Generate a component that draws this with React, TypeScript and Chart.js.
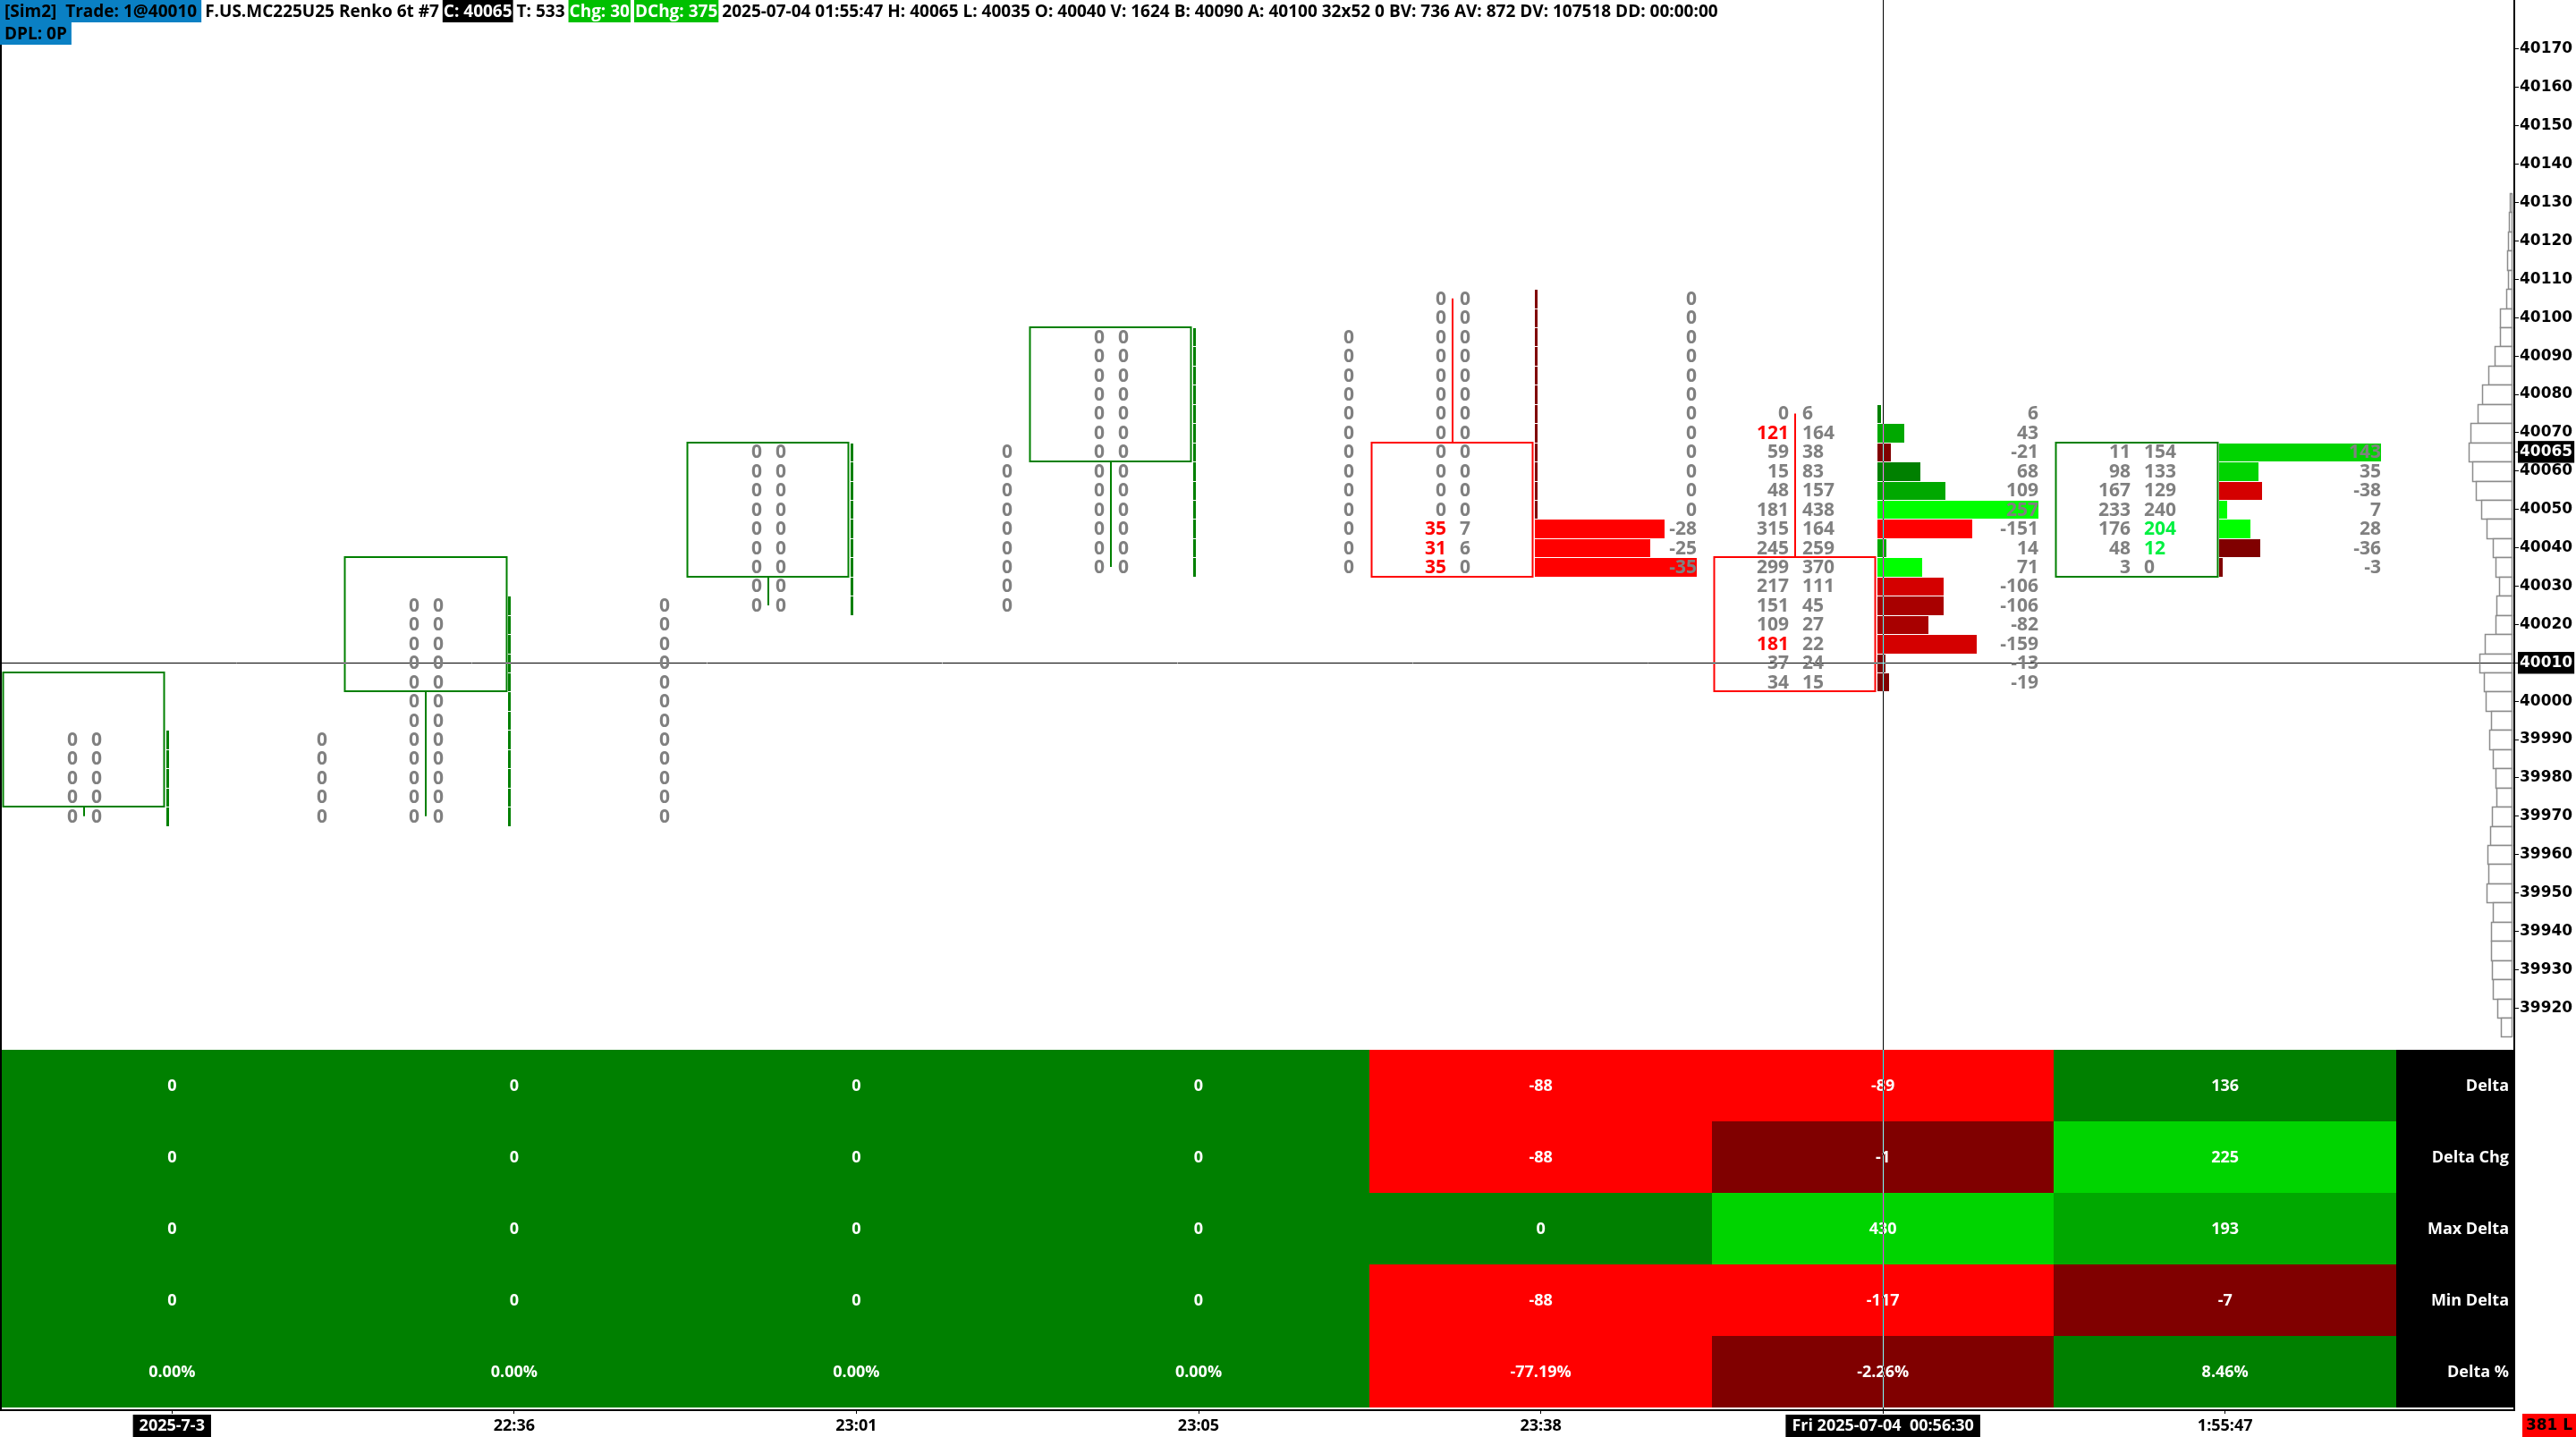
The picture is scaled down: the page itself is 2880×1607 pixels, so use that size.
import React, { useEffect, useRef } from 'react';
import { Chart, registerables } from 'chart.js';

Chart.register(...registerables);

// ---------------- data ----------------
const barLabels = ['2025-7-3', '22:36', '23:01', '23:05', '23:38', '0:56', '1:55:47'];
const crosshairTimeLabel = 'Fri 2025-07-04  00:56:30';
const crosshairBarIndex = 5;
const crosshairPrice = 40010;
const lastPrice = 40065;
const tickSize = 5;
const cornerBadge = '381 L';

const priceTicks = [
  40170, 40160, 40150, 40140, 40130, 40120, 40110, 40100, 40090, 40080, 40070, 40060, 40050,
  40040, 40030, 40020, 40010, 40000, 39990, 39980, 39970, 39960, 39950, 39940, 39930, 39920,
];

const bodyOpen = [39975, 40005, 40035, 40065, 40065, 40035, 40035];
const bodyClose = [40005, 40035, 40065, 40095, 40035, 40005, 40065];
const highPrice = [39990, 40025, 40065, 40095, 40105, 40075, 40065];

const bidVolume = [
  [0, 0, 0, 0, 0],
  [0, 0, 0, 0, 0, 0, 0, 0, 0, 0, 0, 0],
  [0, 0, 0, 0, 0, 0, 0, 0, 0],
  [0, 0, 0, 0, 0, 0, 0, 0, 0, 0, 0, 0, 0],
  [0, 0, 0, 0, 0, 0, 0, 0, 0, 0, 0, 0, 35, 31, 35],
  [0, 121, 59, 15, 48, 181, 315, 245, 299, 217, 151, 109, 181, 37, 34],
  [11, 98, 167, 233, 176, 48, 3],
];
const askVolume = [
  [0, 0, 0, 0, 0],
  [0, 0, 0, 0, 0, 0, 0, 0, 0, 0, 0, 0],
  [0, 0, 0, 0, 0, 0, 0, 0, 0],
  [0, 0, 0, 0, 0, 0, 0, 0, 0, 0, 0, 0, 0],
  [0, 0, 0, 0, 0, 0, 0, 0, 0, 0, 0, 0, 7, 6, 0],
  [6, 164, 38, 83, 157, 438, 164, 259, 370, 111, 45, 27, 22, 24, 15],
  [154, 133, 129, 240, 204, 12, 0],
];
// intensity level (0..3) of each delta histogram bar
const deltaIntensity = [
  [0, 0, 0, 0, 0],
  [0, 0, 0, 0, 0, 0, 0, 0, 0, 0, 0, 0],
  [0, 0, 0, 0, 0, 0, 0, 0, 0],
  [0, 0, 0, 0, 0, 0, 0, 0, 0, 0, 0, 0, 0],
  [0, 0, 0, 0, 0, 0, 0, 0, 0, 0, 0, 0, 3, 3, 3],
  [0, 1, 0, 0, 1, 3, 3, 1, 3, 2, 1, 1, 2, 0, 0],
  [2, 2, 2, 3, 3, 0, 0],
];

const profileTopPrice = 40130;
const profileVolume = [
  80, 120, 160, 210, 170, 250, 520, 520, 760, 1040, 1320, 1520, 1840, 1920, 1760, 1600, 1360,
  1110, 840, 720, 560, 680, 720, 1200, 1440, 1240, 1160, 920, 1000, 840, 720, 680, 880, 960,
  1080, 1040, 1120, 840, 920, 920, 880, 840, 640, 480,
];

const tableLabels = ['Delta', 'Delta Chg', 'Max Delta', 'Min Delta', 'Delta %'];
const deltaRow = [0, 0, 0, 0, -88, -89, 136];
const deltaChgRow = [0, 0, 0, 0, -88, -1, 225];
const maxDeltaRow = [0, 0, 0, 0, 0, 430, 193];
const minDeltaRow = [0, 0, 0, 0, -88, -117, -7];
const deltaPctRow = [0, 0, 0, 0, -77.19, -2.26, 8.46];
const deltaRowIntensity = [0, 0, 0, 0, 3, 3, 0];
const deltaChgRowIntensity = [0, 0, 0, 0, 3, 0, 2];
const maxDeltaRowIntensity = [0, 0, 0, 0, 0, 2, 1];
const minDeltaRowIntensity = [0, 0, 0, 0, 3, 3, 0];
const deltaPctRowIntensity = [0, 0, 0, 0, 3, 0, 0];

const headerLine1: [string, string][] = [
  ['[Sim2]  Trade: 1@40010', 'account'],
  ['F.US.MC225U25 Renko 6t #7', ''],
  ['C: 40065', 'price'],
  ['T: 533', ''],
  ['Chg: 30', 'change'],
  ['DChg: 375', 'change'],
  ['2025-07-04 01:55:47 H: 40065 L: 40035 O: 40040 V: 1624 B: 40090 A: 40100 32x52 0 BV: 736 AV: 872 DV: 107518 DD: 00:00:00', ''],
];
const headerLine2: [string, string][] = [['DPL: 0P', 'account']];

// ---------------- styles ----------------
const GREEN = ['#008000', '#00a800', '#00d400', '#00ff00'];
const RED = ['#800000', '#a80000', '#d40000', '#ff0000'];
const UP_COLOR = '#008000';
const DOWN_COLOR = '#ff0000';
const TEXT_GREY = '#808080';
const NUM_FONT = 'bold 21px "Open Sans"';
const TABLE_FONT = 'bold 18px "Open Sans"';
const HEADER_FONT = 'bold 19px "Open Sans"';
const PROFILE_WIDTH = 48;
const HEADER_GAP = 4;
const HEADER_BG: Record<string, string> = { account: '#0a80c4', price: '#000000', change: '#00c000' };

const footprintPlugin = {
  id: 'footprint',
  beforeDraw(chart: any) {
    const { ctx, width, height } = chart;
    ctx.save();
    ctx.fillStyle = '#ffffff';
    ctx.fillRect(0, 0, width, height);
    ctx.restore();
  },
  afterDatasetsDraw(chart: any) {
    const { ctx, chartArea: ca, scales } = chart;
    const xs = scales.x;
    const ys = scales.y;
    const yt = scales.yTable;
    const X = (v: number) => xs.getPixelForValue(v);
    const Y = (p: number) => ys.getPixelForValue(p);
    ctx.save();

    // ---- volume profile at right edge
    const pMax = Math.max(...profileVolume);
    const pRight = Math.round(ca.right) - 2.5;
    ctx.lineWidth = 1.5;
    ctx.strokeStyle = '#8c8c8c';
    ctx.fillStyle = '#ffffff';
    profileVolume.forEach((v, k) => {
      const p = profileTopPrice - k * tickSize;
      const y0 = Math.round(Y(p + tickSize / 2)) + 0.5;
      const y1 = Math.round(Y(p - tickSize / 2)) + 0.5;
      const w = Math.round((v / pMax) * PROFILE_WIDTH);
      ctx.fillRect(pRight - w, y0, w, y1 - y0);
      ctx.strokeRect(pRight - w, y0, w, y1 - y0);
    });

    // ---- footprint bars
    for (let i = 0; i < bidVolume.length; i++) {
      const bids = bidVolume[i];
      const asks = askVolume[i];
      const n = bids.length;
      const up = bodyClose[i] > bodyOpen[i];
      const col = up ? UP_COLOR : DOWN_COLOR;
      const bodyHi = Math.max(bodyOpen[i], bodyClose[i]) + tickSize / 2;
      const bodyLo = Math.min(bodyOpen[i], bodyClose[i]) - tickSize / 2;
      const xL = Math.round(X(i - 0.495)) + 0.5;
      const xR = Math.round(X(i - 0.024)) + 0.5;
      const xMid = Math.round((xL + xR) / 2);
      const high = highPrice[i];
      const low = high - (n - 1) * tickSize;

      ctx.strokeStyle = col;
      ctx.lineWidth = 2;
      ctx.beginPath();
      if (high > bodyHi) {
        ctx.moveTo(xMid, Y(high));
        ctx.lineTo(xMid, Y(bodyHi));
      }
      if (low < bodyLo) {
        ctx.moveTo(xMid, Y(bodyLo));
        ctx.lineTo(xMid, Y(low));
      }
      ctx.stroke();
      ctx.strokeRect(xL, Math.round(Y(bodyHi)), xR - xL, Math.round(Y(bodyLo)) - Math.round(Y(bodyHi)));

      // delta histogram
      const deltas = asks.map((a, k) => a - bids[k]);
      const maxAbs = Math.max(1, ...deltas.map((d) => Math.abs(d)));
      const hx0 = Math.round(X(i - 0.017));
      const hx1 = Math.round(X(i + 0.455));
      for (let k = 0; k < n; k++) {
        const p = high - k * tickSize;
        const y0 = Math.round(Y(p + tickSize / 2)) + 1;
        const y1 = Math.round(Y(p - tickSize / 2));
        const d = deltas[k];
        const lvl = deltaIntensity[i][k];
        const w = Math.max(3, Math.round((Math.abs(d) / maxAbs) * (hx1 - hx0)));
        ctx.fillStyle = d > 0 ? GREEN[lvl] : d < 0 ? RED[lvl] : up ? GREEN[lvl] : RED[lvl];
        ctx.fillRect(hx0, y0, w, y1 - y0);
      }

      // numbers
      ctx.font = NUM_FONT;
      ctx.textBaseline = 'middle';
      for (let k = 0; k < n; k++) {
        const p = high - k * tickSize;
        const y = Y(p) + 1;
        const bidImb = k > 0 && bids[k] > 0 && bids[k] >= 3 * asks[k - 1];
        const askImb = k < n - 1 && asks[k] > 0 && asks[k] >= 3 * bids[k + 1];
        ctx.textAlign = 'right';
        ctx.fillStyle = bidImb ? '#ff0000' : TEXT_GREY;
        ctx.fillText(String(bids[k]), xMid - 7, y);
        ctx.textAlign = 'left';
        ctx.fillStyle = askImb ? '#00f040' : TEXT_GREY;
        ctx.fillText(String(asks[k]), xMid + 8, y);
        ctx.textAlign = 'right';
        ctx.fillStyle = TEXT_GREY;
        ctx.fillText(String(deltas[k]), hx1, y);
      }
    }

    // ---- bottom table
    const rows = [deltaRow, deltaChgRow, maxDeltaRow, minDeltaRow, deltaPctRow];
    const intens = [deltaRowIntensity, deltaChgRowIntensity, maxDeltaRowIntensity, minDeltaRowIntensity, deltaPctRowIntensity];
    ctx.font = TABLE_FONT;
    ctx.textBaseline = 'middle';
    rows.forEach((row, r) => {
      const v = rows.length - 1 - r;
      const y0 = Math.round(yt.getPixelForValue(v + 1));
      const y1 = Math.round(yt.getPixelForValue(v));
      row.forEach((val, i) => {
        const x0 = Math.round(X(i - 0.5));
        const x1 = Math.round(X(i + 0.5));
        const lvl = intens[r][i];
        ctx.fillStyle = val < 0 ? RED[lvl] : GREEN[lvl];
        ctx.fillRect(x0, y0, x1 - x0, y1 - y0);
        ctx.fillStyle = '#ffffff';
        ctx.textAlign = 'center';
        const txt = r === rows.length - 1 ? val.toFixed(2) + '%' : String(val);
        ctx.fillText(txt, X(i), (y0 + y1) / 2 + 1);
      });
      const lx0 = Math.round(X(row.length - 0.5));
      ctx.fillStyle = '#000000';
      ctx.fillRect(lx0, y0, Math.round(ca.right) - lx0, y1 - y0);
      ctx.fillStyle = '#ffffff';
      ctx.textAlign = 'right';
      ctx.fillText(tableLabels[r], ca.right - 6, (y0 + y1) / 2 + 1);
    });

    ctx.restore();
  },
  afterDraw(chart: any) {
    const { ctx, chartArea: ca, scales, width, height } = chart;
    const X = (v: number) => scales.x.getPixelForValue(v);
    const Y = (p: number) => scales.y.getPixelForValue(p);
    ctx.save();
    // left frame
    ctx.fillStyle = '#000';
    ctx.fillRect(0, 0, 2, ca.bottom);

    // crosshair (inverting)
    ctx.globalCompositeOperation = 'difference';
    ctx.strokeStyle = '#ffffff';
    ctx.lineWidth = 1;
    const cx = Math.round(X(crosshairBarIndex)) + 0.5;
    const cy = Math.round(Y(crosshairPrice)) + 0.5;
    ctx.beginPath();
    ctx.moveTo(cx, ca.top);
    ctx.lineTo(cx, ca.bottom - 1);
    ctx.moveTo(ca.left + 1, cy);
    ctx.lineTo(cx - 0.5, cy);
    ctx.moveTo(cx + 0.5, cy);
    ctx.lineTo(ca.right - 1, cy);
    ctx.stroke();
    ctx.globalCompositeOperation = 'source-over';

    // header
    ctx.font = HEADER_FONT;
    ctx.textBaseline = 'middle';
    ctx.textAlign = 'left';
    const drawLine = (segs: [string, string][], y0: number, h: number) => {
      let x = 0;
      segs.forEach(([txt, role], idx) => {
        if (idx > 0) x += HEADER_GAP;
        const w = ctx.measureText(txt).width;
        if (role) {
          const pad = role === 'account' ? 5 : 1;
          ctx.fillStyle = HEADER_BG[role];
          ctx.fillRect(x, y0, w + pad * 2, h);
          ctx.fillStyle = role === 'account' ? '#000' : '#fff';
          ctx.fillText(txt, x + pad, y0 + h / 2 + 1);
          x += w + pad * 2;
        } else {
          ctx.fillStyle = '#000';
          ctx.fillText(txt, x, y0 + h / 2 + 1);
          x += w;
        }
      });
    };
    drawLine(headerLine1, 0, 25);
    drawLine(headerLine2, 25, 25);

    // corner badge
    const bx = Math.round(ca.right) + 9;
    const by = Math.round(ca.bottom) + 4;
    ctx.fillStyle = '#ff0000';
    ctx.fillRect(bx, by, width - bx, height - by);
    ctx.fillStyle = '#000';
    ctx.font = 'bold 17px "DejaVu Sans"';
    ctx.textAlign = 'center';
    ctx.fillText(cornerBadge, (bx + width) / 2, (by + height) / 2 + 1);
    ctx.restore();
  },
};

export default function App() {
  const ref = useRef<HTMLCanvasElement | null>(null);
  useEffect(() => {
    document.body.style.margin = '0';
    const canvas = ref.current;
    if (!canvas) return;
    const yTickValues = [...priceTicks, lastPrice].sort((a, b) => b - a);
    const chart = new Chart(canvas, {
      type: 'scatter',
      data: { datasets: [] },
      plugins: [footprintPlugin],
      options: {
        animation: false,
        responsive: false,
        devicePixelRatio: 1,
        events: [],
        layout: { padding: { left: 1, top: 0, right: 0, bottom: 0 } },
        plugins: { legend: { display: false }, tooltip: { enabled: false }, title: { display: false } },
        scales: {
          x: {
            type: 'linear',
            position: 'bottom',
            min: -0.5,
            max: 6.845,
            afterBuildTicks: (s: any) => {
              s.ticks = barLabels.map((_, i) => ({ value: i }));
            },
            afterFit: (s: any) => {
              s.height = 30;
              s.paddingLeft = 0;
              s.paddingRight = 0;
            },
            grid: { drawOnChartArea: false, drawTicks: true, tickLength: 4, color: '#000' },
            border: { display: true, color: '#000', width: 2 },
            ticks: {
              autoSkip: false,
              maxRotation: 0,
              minRotation: 0,
              padding: 3,
              font: { family: 'Open Sans', size: 18, weight: 'bold' },
              color: (c: any) => (c.index === 0 || c.index === crosshairBarIndex ? '#ffffff' : '#000000'),
              showLabelBackdrop: true,
              backdropColor: (c: any) => (c.index === 0 || c.index === crosshairBarIndex ? '#000000' : 'rgba(0,0,0,0)'),
              backdropPadding: { x: 7, y: 2 },
              callback: (_v: any, i: number) => (i === crosshairBarIndex ? crosshairTimeLabel : barLabels[i]),
            },
          },
          y: {
            type: 'linear',
            position: 'right',
            min: 39815.15,
            max: 40182.82,
            afterBuildTicks: (s: any) => {
              s.ticks = yTickValues.map((v) => ({ value: v }));
            },
            afterFit: (s: any) => {
              s.width = 69;
              s.paddingTop = 0;
              s.paddingBottom = 0;
            },
            grid: { drawOnChartArea: false, drawTicks: true, tickLength: 5, color: '#000' },
            border: { display: true, color: '#000', width: 2 },
            ticks: {
              autoSkip: false,
              padding: 1,
              font: { family: 'DejaVu Sans', size: 17, weight: 'bold' },
              color: (c: any) => {
                const v = c.tick && c.tick.value;
                return v === lastPrice || v === crosshairPrice ? '#ffffff' : '#000000';
              },
              showLabelBackdrop: true,
              backdropColor: (c: any) => {
                const v = c.tick && c.tick.value;
                return v === lastPrice || v === crosshairPrice ? '#000000' : 'rgba(0,0,0,0)';
              },
              backdropPadding: { x: 2, y: 2 },
              callback: (v: any) => String(v),
            },
          },
          yTable: {
            type: 'linear',
            display: false,
            min: -0.0375,
            max: 19.675,
          },
        },
      } as any,
    });
    return () => chart.destroy();
  }, []);
  return (
    <div style={{ width: 2880, height: 1607 }}>
      <canvas ref={ref} width={2880} height={1607} style={{ display: 'block' }} />
    </div>
  );
}
